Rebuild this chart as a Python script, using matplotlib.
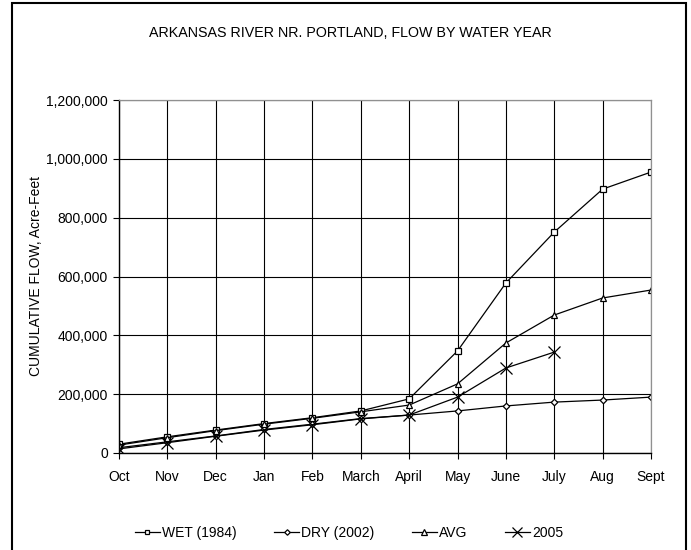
import matplotlib
matplotlib.use("Agg")
import matplotlib.pyplot as plt
from matplotlib.patches import Rectangle
from matplotlib.ticker import FuncFormatter

plt.rcParams['font.family'] = ['Liberation Sans', 'DejaVu Sans']

months = ["Oct", "Nov", "Dec", "Jan", "Feb", "March", "April", "May",
          "June", "July", "Aug", "Sept"]

# cumulative flow, acre-feet
wet_1984 = [30000, 55000, 78000, 100000, 120000, 143000, 184000, 347000,
            578000, 751000, 897000, 955000]
dry_2002 = [18000, 38000, 58000, 80000, 98000, 117000, 129000, 143000,
            160000, 173000, 180000, 190000]
avg_flow = [27000, 52000, 76000, 98000, 118000, 140000, 163000, 235000,
            374000, 469000, 527000, 554000]
wy_2005 = [14000, 35000, 57000, 78000, 96000, 116000, 129000, 190000,
           289000, 343000]

fig = plt.figure(figsize=(6.91, 5.5), dpi=100)
ax = fig.add_axes([119 / 691, 1 - 453 / 550, 532 / 691, 353 / 550])

x = list(range(len(months)))
ax.plot(x, wet_1984, color="black", lw=0.9, marker="s", ms=4,
        mfc="white", mec="black", mew=0.9, label="WET (1984)")
ax.plot(x, dry_2002, color="black", lw=0.9, marker="D", ms=3.3,
        mfc="white", mec="black", mew=0.9, label="DRY (2002)")
ax.plot(x, avg_flow, color="black", lw=0.9, marker="^", ms=4.3,
        mfc="white", mec="black", mew=0.9, label="AVG")
ax.plot(x[:len(wy_2005)], wy_2005, color="black", lw=0.9, marker="x",
        ms=9, mec="black", mew=0.9, label="2005")

ax.set_xlim(0, len(months) - 1)
ax.set_ylim(0, 1200000)
ax.set_xticks(x)
ax.set_xticklabels(months)
ax.set_yticks(range(0, 1200001, 200000))
ax.yaxis.set_major_formatter(FuncFormatter(lambda v, p: f"{int(v):,}"))
ax.tick_params(labelsize=10, length=4, width=0.8, color="black", pad=4)
ax.tick_params(axis="x", pad=8)

ax.grid(True, color="black", lw=0.8)
ax.set_axisbelow(True)
for side in ("top", "right"):
    ax.spines[side].set_color("#909090")
    ax.spines[side].set_linewidth(0.9)
for side in ("left", "bottom"):
    ax.spines[side].set_color("black")
    ax.spines[side].set_linewidth(1.0)

ax.set_ylabel("CUMULATIVE FLOW, Acre-Feet", fontsize=10, labelpad=2)
fig.text(350 / 691, 1 - 33 / 550, "ARKANSAS RIVER NR. PORTLAND, FLOW BY WATER YEAR",
         ha="center", va="center", fontsize=10.3)

fig.legend(loc="center", bbox_to_anchor=(349 / 691, 1 - 533 / 550), ncol=4,
           frameon=False, fontsize=10, handlelength=1.8, handletextpad=0.15,
           columnspacing=2.7, markerscale=0.85)

# outer chart border
fig.patches.append(Rectangle((12 / 691, -0.02), 674 / 691, 1.02 - 3 / 550,
                             transform=fig.transFigure, fill=False,
                             edgecolor="black", lw=1.5))

fig.savefig("out.png", dpi=100)
